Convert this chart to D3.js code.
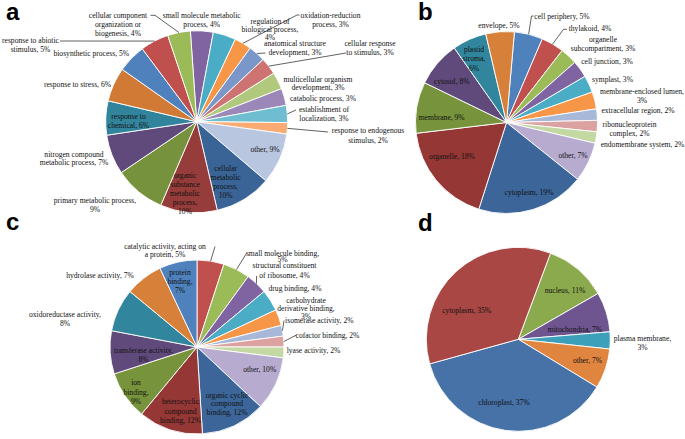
<!DOCTYPE html>
<html><head><meta charset="utf-8">
<script src="https://cdn.jsdelivr.net/npm/d3@7"></script>
<style>body{margin:0;background:#fff}svg{display:block}</style>
</head><body>
<svg id="chart" width="685" height="439"></svg>
<script>
// ---------- DATA (clockwise from the first drawn slice) ----------
const aCategories = ["small molecule metabolic process","regulation of biological process","oxidation-reduction process","anatomical structure development","cellular response to stimulus","multicellular organism development","catabolic process","establishment of localization","response to endogenous stimulus","other","cellular metabolic process","organic substance metabolic process","primary metabolic process","nitrogen compound metabolic process","response to chemical","response to stress","biosynthetic process","response to abiotic stimulus","cellular component organization or biogenesis"];
const aValues = [4,4,3,3,3,3,3,3,2,9,10,10,9,7,6,6,5,5,4];

const bCategories = ["cell periphery","thylakoid","organelle subcompartment","cell junction","symplast","membrane-enclosed lumen","extracellular region","ribonucleoprotein complex","endomembrane system","other","cytoplasm","organelle","membrane","cytosol","plastid stroma","envelope"];
const bValues = [5,4,3,3,3,3,2,2,2,7,19,18,9,8,6,5];

const cCategories = ["catalytic activity, acting on a protein","small molecule binding","structural constituent of ribosome","drug binding","carbohydrate derivative binding","isomerase activity","cofactor binding","lyase activity","other","organic cyclic compound binding","heterocyclic compound binding","ion binding","transferase activity","oxidoreductase activity","hydrolase activity","protein binding"];
const cValues = [5,5,4,4,3,2,2,2,10,12,12,9,8,8,7,7];

const dCategories = ["nucleus","mitochondria","plasma membrane","other","chloroplast","cytoplasm"];
const dValues = [11,7,3,7,37,35];

// ---------- STYLES ----------
const aColors = ["#8064a2","#4bacc6","#f79646","#7b97c9","#cd7472","#b0c97c","#9b87b8","#6fbdd1","#f9ab73","#b9c6df","#3b6496","#963c3a","#76923c","#604a7b","#31849b","#d07a35","#4f81bd","#c0504d","#9bbb59"];
const bColors = ["#4f81bd","#c0504d","#9bbb59","#8064a2","#4bacc6","#f79646","#a8b8d8","#dba2a1","#c4d8a4","#b7abcf","#3c6699","#953735","#77933c","#604a7b","#31859c","#d6803a"];
const cColors = ["#c0504d","#9bbb59","#8064a2","#4bacc6","#f79646","#a8b8d8","#dba2a1","#c4d8a4","#b7abcf","#3c6699","#953735","#77933c","#604a7b","#31859c","#d6803a","#4f81bd"];
const dColors = ["#8baa4e","#6e5590","#3ca0bb","#e08540","#4672a8","#a84744"];

// ---------- LABEL LAYOUT ----------
const aLabels = [
 {lines:["small molecule metabolic","process, 4%"],x:201.7,y:15.3,lh:9.5},
 {lines:["regulation of","biological process,","4%"],x:270,y:21.7,lh:8},
 {lines:["oxidation-reduction","process, 3%"],x:330.5,y:15,lh:9.5,leader:[[297,15],[299.5,15]]},
 {lines:["anatomical structure","development, 3%"],x:295,y:43.3,lh:9,leader:[[265.5,53]]},
 {lines:["cellular response","to stimulus, 3%"],x:370,y:43.3,lh:9,leader:[[346,53]]},
 {lines:["multicellular organism","development, 3%"],x:318,y:79,lh:8.8},
 {lines:["catabolic process, 3%"],x:323,y:98.3,lh:9},
 {lines:["establishment of","localization, 3%"],x:324,y:109.3,lh:9,leader:[[296,110]]},
 {lines:["response to endogenous","stimulus, 2%"],x:368,y:130.7,lh:9.3,leader:[[328,132]]},
 {lines:["other, 9%"],x:265,y:149.3,lh:9},
 {lines:["cellular","metabolic","process,","10%"],x:225.7,y:168.3,lh:9.1},
 {lines:["organic","substance","metabolic","process,","10%"],x:185,y:175.7,lh:8.8},
 {lines:["primary  metabolic process,","9%"],x:95,y:200,lh:9},
 {lines:["nitrogen compound","metabolic process, 7%"],x:74,y:154,lh:8.7},
 {lines:["response to","chemical,  6%"],x:128.5,y:116.7,lh:8.5},
 {lines:["response to stress, 6%"],x:77.5,y:84.3,lh:9},
 {lines:["biosynthetic process, 5%"],x:91.3,y:53.3,lh:9},
 {lines:["response to abiotic","stimulus, 5%"],x:30.5,y:40,lh:9,leader:[[60,41]]},
 {lines:["cellular component","organization or","biogenesis, 4%"],x:118,y:15.3,lh:9,leader:[[155,15.3],[150.5,15.3]]}
];
const bLabels = [
 {lines:["cell periphery, 5%"],x:562,y:16,lh:9,leader:[[531.5,16],[533.5,16]]},
 {lines:["thylakoid, 4%"],x:590,y:28.3,lh:9,leader:[[563.5,29.3],[567,29.3]]},
 {lines:["organelle","subcompartment, 3%"],x:603,y:39.3,lh:9},
 {lines:["cell junction, 3%"],x:607,y:61.7,lh:9},
 {lines:["symplast, 3%"],x:612.5,y:79,lh:9},
 {lines:["membrane-enclosed lumen,","3%"],x:642,y:91,lh:9},
 {lines:["extracellular  region, 2%"],x:638,y:110.7,lh:9},
 {lines:["ribonucleoprotein","complex,  2%"],x:629.5,y:124,lh:9.3},
 {lines:["endomembrane  system, 2%"],x:642.5,y:144,lh:9},
 {lines:["other, 7%"],x:573,y:155,lh:9},
 {lines:["cytoplasm, 19%"],x:529,y:192.7,lh:9},
 {lines:["organelle, 18%"],x:452,y:156.7,lh:9},
 {lines:["membrane,  9%"],x:441.7,y:117.3,lh:9},
 {lines:["cytosol, 8%"],x:451.7,y:81,lh:9},
 {lines:["plastid","stroma,","6%"],x:474,y:49.3,lh:9.5},
 {lines:["envelope, 5%"],x:499,y:25,lh:9}
];
const cLabels = [
 {lines:["catalytic activity, acting on","a protein, 5%"],x:165,y:246,lh:8.3,leader:[[215,246.5]]},
 {lines:["small molecule binding,","5%"],x:282.5,y:253.3,lh:6.5,leader:[[246.5,253.3]]},
 {lines:["structural constituent","of ribosome, 4%"],x:284.5,y:265.7,lh:9.3,leader:[[256.5,276]]},
 {lines:["drug binding, 4%"],x:295,y:288.3,lh:9},
 {lines:["carbohydrate","derivative binding,","3%"],x:306,y:300,lh:8.3},
 {lines:["isomerase activity, 2%"],x:319.3,y:320,lh:9,leader:[[284,320.5]]},
 {lines:["cofactor binding, 2%"],x:327.5,y:335,lh:9,leader:[[296.5,335]]},
 {lines:["lyase activity, 2%"],x:313.5,y:350,lh:9},
 {lines:["other, 10%"],x:259.7,y:369,lh:9},
 {lines:["organic cyclic","compound","binding, 12%"],x:227,y:395,lh:8.8},
 {lines:["heterocyclic","compound","binding, 12%"],x:180.5,y:401.7,lh:9.2},
 {lines:["ion","binding,","9%"],x:136,y:382.7,lh:9.5},
 {lines:["transferase activity,","8%"],x:143.5,y:350,lh:9.3},
 {lines:["oxidoreductase activity,","8%"],x:65,y:314.3,lh:9},
 {lines:["hydrolase activity, 7%"],x:100,y:275.7,lh:9},
 {lines:["protein","binding,","7%"],x:180,y:272.7,lh:9}
];
const dLabels = [
 {lines:["nucleus, 11%"],x:565,y:290.7,lh:9},
 {lines:["mitochondria, 7%"],x:575,y:329.3,lh:9},
 {lines:["plasma membrane,","3%"],x:642.5,y:338.3,lh:9},
 {lines:["other, 7%"],x:587.5,y:360,lh:9},
 {lines:["chloroplast, 37%"],x:504,y:402.7,lh:9},
 {lines:["cytoplasm, 35%"],x:466.7,y:310,lh:9}
];

const panels = [
 {letter:"a",lx:6,ly:19.5,cx:196.7,cy:121.7,r:91,start:-4,cats:aCategories,vals:aValues,colors:aColors,labels:aLabels},
 {letter:"b",lx:418,ly:19.5,cx:506.5,cy:122.5,r:91,start:5,cats:bCategories,vals:bValues,colors:bColors,labels:bLabels},
 {letter:"c",lx:6,ly:230,cx:197,cy:347,r:87,start:0,cats:cCategories,vals:cValues,colors:cColors,labels:cLabels},
 {letter:"d",lx:418,ly:230.5,cx:518.3,cy:339.3,r:92,start:20.5,cats:dCategories,vals:dValues,colors:dColors,labels:dLabels}
];

const svg = d3.select("#chart");
svg.append("rect").attr("width",685).attr("height",439).attr("fill","#fff");

panels.forEach(p => {
  const s = p.start*Math.PI/180;
  const pie = d3.pie().sort(null).value(d=>d.v).startAngle(s).endAngle(s+2*Math.PI);
  const arcs = pie(p.cats.map((c,i)=>({c, v:p.vals[i], i})));
  const arc = d3.arc().innerRadius(0).outerRadius(p.r);
  const g = svg.append("g").attr("transform",`translate(${p.cx},${p.cy})`);
  g.selectAll("path").data(arcs).join("path")
    .attr("d",arc).attr("fill",d=>p.colors[d.data.i])
    .attr("stroke","#fff").attr("stroke-width",0.9).attr("stroke-linejoin","round");

  // leader lines
  const line = d3.line();
  arcs.forEach(d=>{
    const L = p.labels[d.data.i];
    if(!L || !L.leader) return;
    const m = (d.startAngle+d.endAngle)/2;
    const p0 = [p.cx + (p.r)*Math.sin(m), p.cy - (p.r)*Math.cos(m)];
    svg.append("path").attr("d",line([p0, ...L.leader]))
      .attr("fill","none").attr("stroke","#3a3a3a").attr("stroke-width",0.8);
  });

  // labels
  p.labels.forEach(L=>{
    const t = svg.append("text").attr("text-anchor","middle")
      .attr("font-family","'Liberation Serif','Times New Roman',serif")
      .attr("font-size",7.6).attr("fill","#111");
    L.lines.forEach((ln,k)=>{
      t.append("tspan").attr("x",L.x).attr("y",L.y + k*L.lh).attr("dy","0.35em").text(ln);
    });
  });

  svg.append("text").attr("x",p.lx).attr("y",p.ly)
    .attr("font-family","'Liberation Sans',Arial,sans-serif").attr("font-weight","bold")
    .attr("font-size",24).attr("fill","#000").text(p.letter);
});
</script>
</body></html>
